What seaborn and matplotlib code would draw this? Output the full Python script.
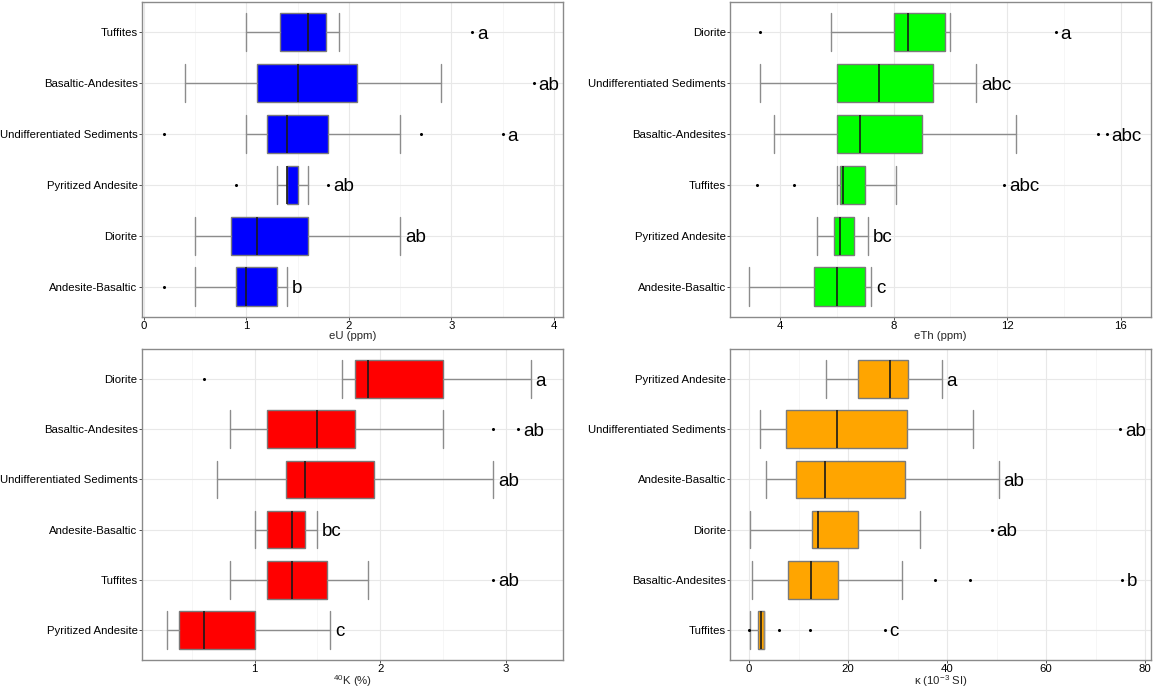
import matplotlib
matplotlib.use("Agg")
import matplotlib.pyplot as plt
import seaborn as sns
from matplotlib.ticker import MultipleLocator

# ---------------------------------------------------------------------
# eU (ppm)
# ---------------------------------------------------------------------
eu_groups = ["Tuffites", "Basaltic-Andesites", "Undifferentiated Sediments",
             "Pyritized Andesite", "Diorite", "Andesite-Basaltic"]
eu_wlo = [1.0, 0.4, 1.0, 1.3, 0.5, 0.5]
eu_q1 = [1.33, 1.1, 1.2, 1.4, 0.85, 0.9]
eu_med = [1.6, 1.5, 1.4, 1.4, 1.1, 1.0]
eu_q3 = [1.78, 2.08, 1.8, 1.5, 1.6, 1.3]
eu_whi = [1.9, 2.9, 2.5, 1.6, 2.5, 1.4]
eu_out = [[3.2], [3.8], [0.2, 2.7, 3.5], [0.9, 1.8], [], [0.2]]
eu_let = ["a", "ab", "a", "ab", "ab", "b"]

# ---------------------------------------------------------------------
# eTh (ppm)
# ---------------------------------------------------------------------
th_groups = ["Diorite", "Undifferentiated Sediments", "Basaltic-Andesites",
             "Tuffites", "Pyritized Andesite", "Andesite-Basaltic"]
th_wlo = [5.8, 3.3, 3.8, 6.0, 5.3, 2.9]
th_q1 = [8.0, 6.0, 6.0, 6.1, 5.9, 5.2]
th_med = [8.5, 7.5, 6.8, 6.2, 6.1, 6.0]
th_q3 = [9.8, 9.4, 9.0, 7.0, 6.6, 7.0]
th_whi = [10.0, 10.9, 12.3, 8.1, 7.1, 7.2]
th_out = [[3.3, 13.7], [], [15.2, 15.5], [3.2, 4.5, 11.9], [], []]
th_let = ["a", "abc", "abc", "abc", "bc", "c"]

# ---------------------------------------------------------------------
# 40K (%)
# ---------------------------------------------------------------------
k_groups = ["Diorite", "Basaltic-Andesites", "Undifferentiated Sediments",
            "Andesite-Basaltic", "Tuffites", "Pyritized Andesite"]
k_wlo = [1.7, 0.8, 0.7, 1.0, 0.8, 0.3]
k_q1 = [1.8, 1.1, 1.25, 1.1, 1.1, 0.4]
k_med = [1.9, 1.5, 1.4, 1.3, 1.3, 0.6]
k_q3 = [2.5, 1.8, 1.95, 1.4, 1.58, 1.0]
k_whi = [3.2, 2.5, 2.9, 1.5, 1.9, 1.6]
k_out = [[0.6], [2.9, 3.1], [], [], [2.9], []]
k_let = ["a", "ab", "ab", "bc", "ab", "c"]

# ---------------------------------------------------------------------
# Suscetibilidade magnetica (10^-3 SI)
# ---------------------------------------------------------------------
ms_groups = ["Pyritized Andesite", "Undifferentiated Sediments", "Andesite-Basaltic",
             "Diorite", "Basaltic-Andesites", "Tuffites"]
ms_wlo = [15.5, 2.3, 3.5, 0.1, 0.7, 0.1]
ms_q1 = [22.1, 7.4, 9.4, 12.8, 7.8, 1.9]
ms_med = [28.5, 17.8, 15.4, 13.9, 12.5, 2.4]
ms_q3 = [32.2, 31.9, 31.5, 22.1, 18.0, 3.1]
ms_whi = [38.9, 45.2, 50.4, 34.6, 31.0, 3.1]
ms_out = [[], [75.0], [], [49.0], [37.5, 44.7, 75.4], [0.0, 6.0, 12.3, 27.4]]
ms_let = ["a", "ab", "ab", "ab", "b", "c"]

sns.set_theme(style="whitegrid")
plt.rcParams["font.family"] = ["Liberation Sans", "DejaVu Sans"]
plt.rcParams["mathtext.fontset"] = "custom"
plt.rcParams["mathtext.rm"] = "Liberation Sans"
plt.rcParams["mathtext.it"] = "Liberation Sans:italic"


def draw_panel(ax, groups, wlo, q1, med, q3, whi, out, letters, color,
               xlabel, xlim, major, minor):
    stats = []
    for i, g in enumerate(groups):
        stats.append({"label": g, "whislo": wlo[i], "q1": q1[i], "med": med[i],
                      "q3": q3[i], "whishi": whi[i], "fliers": out[i]})
    pos = list(range(len(groups)))
    ax.bxp(stats, positions=pos, widths=0.75, capwidths=0.75,
           orientation="horizontal", patch_artist=True, showfliers=True,
           boxprops=dict(facecolor=color, edgecolor="#7a7a7a", linewidth=1.0),
           whiskerprops=dict(color="#8c8c8c", linewidth=1.0),
           capprops=dict(color="#8c8c8c", linewidth=1.0),
           medianprops=dict(color="#1a1a1a", linewidth=1.2),
           flierprops=dict(marker="o", markersize=1.2, markerfacecolor="black",
                           markeredgecolor="black", linestyle="none"))

    # letras de agrupamento (teste post-hoc)
    for i, lab in enumerate(letters):
        xmax = max([whi[i]] + out[i])
        ax.annotate(lab, xy=(xmax, i), xytext=(3.5, -1.5), textcoords="offset points",
                    ha="left", va="center", fontsize=13.5, color="black")

    ax.set_yticks(pos, labels=groups)
    ax.set_ylim(len(groups) - 0.4, -0.6)
    ax.set_xlim(*xlim)
    ax.xaxis.set_major_locator(MultipleLocator(major))
    ax.xaxis.set_minor_locator(MultipleLocator(minor))
    ax.set_xlabel(xlabel, fontsize=8.2, labelpad=-0.5)
    ax.set_ylabel("")
    ax.set_axisbelow(True)
    ax.grid(which="major", color="#e8e8e8", linewidth=0.8)
    ax.grid(which="minor", axis="x", color="#f3f3f3", linewidth=0.5)
    ax.tick_params(axis="both", which="major", labelsize=8.2, length=2,
                   width=0.6, color="#333333", pad=1, labelcolor="black",
                   bottom=True, left=True)
    ax.tick_params(axis="x", which="minor", length=0)
    for sp in ax.spines.values():
        sp.set_color("#8a8a8a")
        sp.set_linewidth(1.0)


fig = plt.figure(figsize=(11.54, 6.91), dpi=100)
ax1 = fig.add_axes([0.1228, 0.5412, 0.3653, 0.4560])
ax2 = fig.add_axes([0.6326, 0.5412, 0.3648, 0.4560])
ax3 = fig.add_axes([0.1228, 0.0449, 0.3653, 0.4500])
ax4 = fig.add_axes([0.6326, 0.0449, 0.3648, 0.4500])

draw_panel(ax1, eu_groups, eu_wlo, eu_q1, eu_med, eu_q3, eu_whi, eu_out, eu_let,
           "#0000FF", "eU (ppm)", (-0.02, 4.09), 1, 0.5)
draw_panel(ax2, th_groups, th_wlo, th_q1, th_med, th_q3, th_whi, th_out, th_let,
           "#00FF00", "eTh (ppm)", (2.24, 17.06), 4, 2)
draw_panel(ax3, k_groups, k_wlo, k_q1, k_med, k_q3, k_whi, k_out, k_let,
           "#FF0000", "$^{40}$K (%)", (0.10, 3.46), 1, 0.5)
draw_panel(ax4, ms_groups, ms_wlo, ms_q1, ms_med, ms_q3, ms_whi, ms_out, ms_let,
           "#FFA500", "κ (10$^{-3}$ SI)", (-3.84, 81.2), 20, 10)

fig.savefig("out.png", dpi=100, facecolor="white")
plt.close(fig)
